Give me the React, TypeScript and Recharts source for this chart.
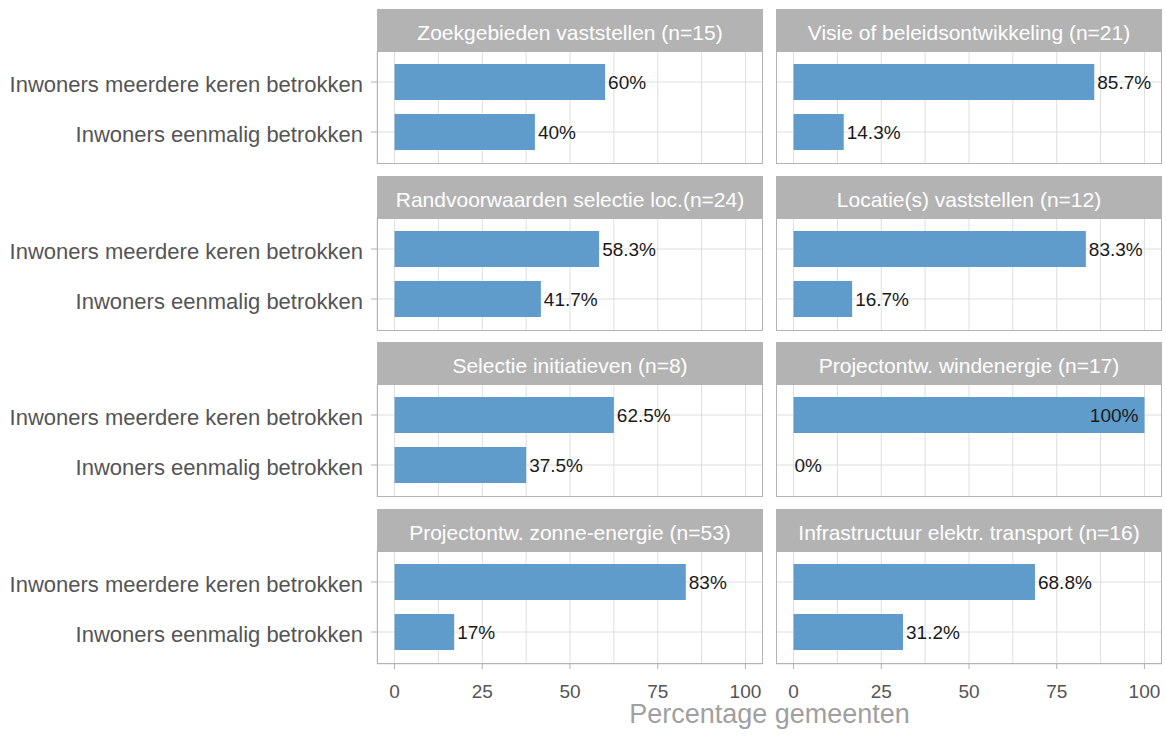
import React from 'react';
import { BarChart, Bar, XAxis, YAxis, CartesianGrid, LabelList, ReferenceDot } from 'recharts';

const facetTitles = [
  'Zoekgebieden vaststellen (n=15)',
  'Visie of beleidsontwikkeling (n=21)',
  'Randvoorwaarden selectie loc.(n=24)',
  'Locatie(s) vaststellen (n=12)',
  'Selectie initiatieven (n=8)',
  'Projectontw. windenergie (n=17)',
  'Projectontw. zonne-energie (n=53)',
  'Infrastructuur elektr. transport (n=16)',
];
const categories = ['Inwoners meerdere keren betrokken', 'Inwoners eenmalig betrokken'];
const meerdereKeren = [60, 85.7, 58.3, 83.3, 62.5, 100, 83, 68.8];
const eenmalig = [40, 14.3, 41.7, 16.7, 37.5, 0, 17, 31.2];
const gridTicks = [0, 12.5, 25, 37.5, 50, 62.5, 75, 87.5, 100];
const majorTicks = [0, 25, 50, 75, 100];
const axisTitle = 'Percentage gemeenten';

const FONT = '"Liberation Sans", Arial, sans-serif';
const BAR = '#5f9bcb';
const STRIP = '#b3b3b3';
const BORDER = '#b3b3b3';
const GRID = '#dedede';

const colX = [377, 776];
const panelW = 386;
const rowStep = 166.7;
const stripTop0 = 9;
const stripH = 42;
const panelTop0 = 51;
const panelH = 113;
const yAxisW = 377;
const xAxisH = 45;

const YTick = (props: any) => {
  const { x, y, payload } = props;
  return (
    <g>
      <line x1={x - 6} x2={x} y1={y} y2={y} stroke={BORDER} strokeWidth={1} />
      <text x={x - 14} y={y} dy="0.45em" textAnchor="end" fontSize={22} fill="#555555" fontFamily={FONT}>
        {payload.value}
      </text>
    </g>
  );
};

const XTickBottom = (props: any) => {
  const { x, y, payload } = props;
  if (!majorTicks.includes(payload.value)) return <g />;
  return (
    <g>
      <line x1={x} x2={x} y1={y} y2={y + 5} stroke={BORDER} strokeWidth={1} />
      <text x={x} y={y + 34} textAnchor="middle" fontSize={19} fill="#555555" fontFamily={FONT}>
        {payload.value}
      </text>
    </g>
  );
};

const XTickNone = () => <g />;

const labelText = (x: number, y: number, txt: string, anchor: 'start' | 'end') => (
  <text x={x} y={y} dy="0.35em" textAnchor={anchor} fontSize={19} fill="#1a1a1a" fontFamily={FONT}>
    {txt}
  </text>
);

const renderValueLabel = (props: any) => {
  const { x, y, width, height, value } = props;
  if (value === 0 || value == null) return <g />;
  const txt = `${value}%`;
  const cy = y + height / 2;
  if (value >= 100) return labelText(x + width - 6, cy, txt, 'end');
  return labelText(x + width + 3, cy, txt, 'start');
};

export default function App() {
  return (
    <div
      style={{
        position: 'absolute',
        left: 0,
        top: 0,
        width: 1166,
        height: 736,
        background: '#ffffff',
        fontFamily: FONT,
        overflow: 'hidden',
      }}
    >
      {facetTitles.map((title, i) => {
        const row = Math.floor(i / 2);
        const col = i % 2;
        const isLeft = col === 0;
        const isBottom = row === 3;
        const stripTop = stripTop0 + row * rowStep;
        const panelTop = panelTop0 + row * rowStep;
        const data = [
          { cat: categories[0], value: meerdereKeren[i] },
          { cat: categories[1], value: eenmalig[i] },
        ];
        const zeroRows = data.filter((d) => d.value === 0);
        const chartLeft = isLeft ? 0 : colX[1];
        const chartW = isLeft ? yAxisW + panelW : panelW;
        const chartH = panelH + (isBottom ? xAxisH : 0);
        return (
          <React.Fragment key={title}>
            <div
              style={{
                position: 'absolute',
                left: colX[col],
                top: stripTop,
                width: panelW,
                height: stripH,
                background: STRIP,
                color: '#ffffff',
                fontSize: 21,
                lineHeight: '48px',
                textAlign: 'center',
                whiteSpace: 'nowrap',
                overflow: 'hidden',
              }}
            >
              {title}
            </div>
            <div style={{ position: 'absolute', left: chartLeft, top: panelTop }}>
              <BarChart
                width={chartW}
                height={chartH}
                data={data}
                layout="vertical"
                margin={{ top: 0, right: 0, bottom: 0, left: 0 }}
              >
                <CartesianGrid stroke={GRID} strokeWidth={1} />
                <XAxis
                  type="number"
                  domain={[-5, 105]}
                  ticks={gridTicks}
                  interval={0}
                  height={isBottom ? xAxisH : 0}
                  axisLine={false}
                  tickLine={false}
                  tickSize={0}
                  tickMargin={0}
                  tick={isBottom ? <XTickBottom /> : <XTickNone />}
                />
                <YAxis
                  type="category"
                  dataKey="cat"
                  width={isLeft ? yAxisW : 0}
                  interval={0}
                  axisLine={false}
                  tickLine={false}
                  tickSize={0}
                  tickMargin={0}
                  padding={{ top: 6, bottom: 7 }}
                  tick={isLeft ? <YTick /> : <g />}
                />
                <Bar dataKey="value" fill={BAR} barSize={36} isAnimationActive={false}>
                  <LabelList dataKey="value" content={renderValueLabel} />
                </Bar>
                {zeroRows.map((d) => (
                  <ReferenceDot
                    key={d.cat}
                    x={d.value}
                    y={d.cat}
                    r={0}
                    ifOverflow="visible"
                    shape={(p: any) => labelText(p.cx + 1, p.cy, `${d.value}%`, 'start')}
                  />
                ))}
              </BarChart>
            </div>
            <div
              style={{
                position: 'absolute',
                left: colX[col],
                top: panelTop,
                width: panelW,
                height: panelH,
                border: `1px solid ${BORDER}`,
                boxSizing: 'border-box',
                pointerEvents: 'none',
              }}
            />
          </React.Fragment>
        );
      })}
      <div
        style={{
          position: 'absolute',
          left: colX[0],
          top: 699,
          width: colX[1] + panelW - colX[0],
          textAlign: 'center',
          fontSize: 27,
          color: '#a0a0a0',
          lineHeight: '30px',
          whiteSpace: 'nowrap',
        }}
      >
        {axisTitle}
      </div>
    </div>
  );
}
